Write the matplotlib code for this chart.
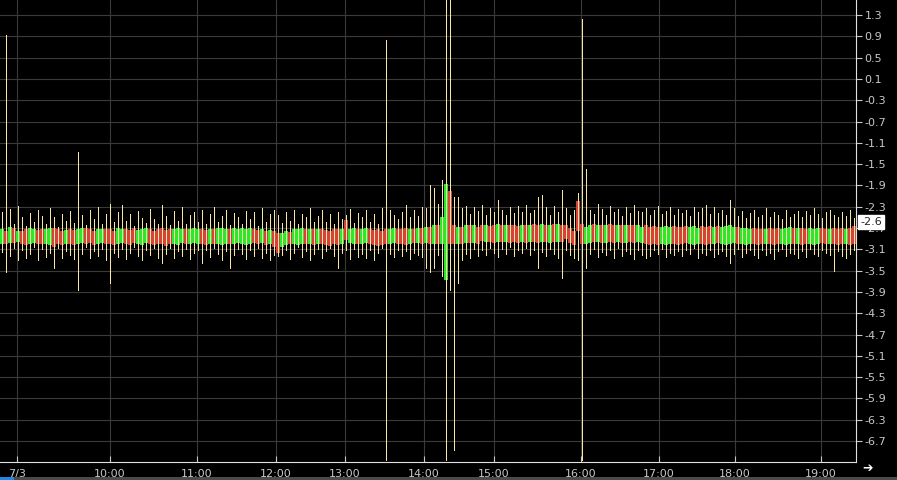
import matplotlib
matplotlib.use('Agg')
import matplotlib.pyplot as plt
import numpy as np
from matplotlib.patches import Rectangle

# tick-chart bars, prices in hundredths (open, close, high, low)
opens = [
    -300, -275, -298, -270, -296, -276, -272, -300, -298, -274,
    -272, -300, -302, -270, -272, -275, -300, -272, -274, -300,
    -298, -270, -272, -275, -300, -298, -272, -272, -275, -300,
    -298, -272, -274, -270, -300, -302, -298, -272, -275, -272,
    -270, -274, -272, -300, -302, -298, -272, -300, -298, -300,
    -272, -274, -300, -272, -300, -302, -300, -272, -300, -298,
    -300, -302, -300, -272, -274, -298, -275, -300, -276, -280,
    -305, -302, -278, -300, -302, -300, -272, -300, -272, -300,
    -272, -274, -275, -272, -272, -300, -255, -298, -300, -272,
    -300, -298, -272, -274, -272, -275, -272, -300, -298, -272,
    -272, -270, -300, -272, -298, -270, -298, -268, -300, -265,
    -300, -368, -200, -265, -300, -268, -298, -265, -298, -268,
    -265, -296, -266, -265, -296, -264, -296, -265, -264, -266,
    -296, -265, -296, -262, -265, -296, -264, -298, -262, -296,
    -264, -265, -270, -275, -220, -262, -300, -298, -262, -296,
    -265, -298, -262, -265, -296, -265, -298, -264, -265, -296,
    -298, -265, -268, -266, -268, -300, -302, -300, -266, -268,
    -268, -266, -300, -302, -300, -266, -268, -266, -300, -266,
    -300, -302, -300, -298, -268, -300, -302, -300, -270, -272,
    -272, -300, -270, -272, -270, -300, -302, -300, -270, -300,
    -270, -272, -300, -302, -300, -270, -272, -300, -270, -272,
    -270, -300, -270, -266,
]
closes = [
    -272, -300, -268, -298, -275, -300, -302, -270, -272, -300,
    -300, -272, -270, -305, -300, -302, -274, -300, -302, -272,
    -270, -300, -298, -302, -272, -272, -300, -300, -302, -270,
    -272, -300, -302, -298, -274, -272, -270, -300, -302, -300,
    -300, -303, -300, -272, -270, -272, -300, -272, -270, -272,
    -300, -302, -272, -300, -270, -270, -272, -300, -270, -272,
    -270, -272, -270, -298, -300, -272, -302, -274, -305, -317,
    -280, -275, -300, -272, -272, -270, -300, -272, -302, -272,
    -300, -302, -304, -300, -302, -272, -292, -272, -270, -300,
    -272, -270, -300, -302, -304, -302, -300, -272, -270, -300,
    -300, -302, -272, -298, -270, -300, -268, -300, -265, -300,
    -250, -187, -300, -300, -268, -300, -265, -298, -265, -300,
    -295, -265, -296, -298, -262, -296, -265, -298, -296, -298,
    -264, -298, -265, -296, -298, -262, -296, -265, -296, -262,
    -296, -290, -298, -302, -275, -300, -268, -265, -296, -265,
    -298, -265, -296, -298, -264, -298, -265, -296, -298, -265,
    -268, -300, -302, -300, -302, -268, -266, -268, -300, -302,
    -300, -298, -268, -266, -270, -300, -302, -300, -268, -298,
    -268, -266, -265, -268, -300, -270, -270, -272, -300, -302,
    -300, -272, -300, -302, -300, -272, -270, -268, -300, -270,
    -302, -300, -270, -272, -270, -298, -300, -272, -300, -302,
    -300, -272, -302, -300,
]
highs = [
    -240, 92, -235, -262, -228, -250, -266, -242, -258, -236,
    -248, -262, -232, -250, -268, -244, -256, -238, -260, -127,
    -246, -264, -236, -254, -230, -262, -244, -225, -258, -240,
    -226, -256, -244, -266, -238, -252, -260, -234, -254, -262,
    -226, -248, -264, -238, -256, -230, -262, -246, -240, -258,
    -236, -262, -244, -230, -258, -248, -236, -264, -242, -250,
    -262, -238, -254, -240, -266, -232, -258, -244, -236, -246,
    -260, -240, -256, -236, -262, -244, -250, -232, -258, -248,
    -236, -258, -244, -262, -240, -254, -245, -234, -260, -242,
    -250, -236, -258, -244, -262, -232, 83, -236, -245, -254,
    -240, -226, -250, -236, -248, -230, -232, -190, -195, -225,
    -180, 200, 200, -212, -212, -232, -228, -244, -230, -238,
    -226, -246, -232, -240, -217, -236, -246, -230, -242, -228,
    -240, -226, -242, -236, -212, -208, -230, -246, -228, -240,
    -199, -232, -245, -236, -205, 122, -160, -236, -244, -225,
    -235, -246, -228, -240, -234, -248, -230, -242, -226, -238,
    -240, -232, -246, -236, -228, -244, -238, -230, -246, -234,
    -242, -236, -248, -230, -240, -232, -227, -244, -230, -242,
    -236, -246, -217, -232, -248, -238, -252, -242, -236, -250,
    -245, -232, -250, -240, -246, -254, -236, -250, -244, -238,
    -250, -238, -246, -232, -244, -252, -240, -236, -245, -250,
    -240, -248, -236, -252,
]
lows = [
    -315, -353, -322, -308, -330, -312, -326, -318, -306, -330,
    -310, -324, -316, -346, -308, -326, -314, -320, -328, -386,
    -318, -306, -326, -314, -322, -310, -330, -373, -316, -324,
    -310, -328, -316, -306, -322, -330, -312, -320, -308, -326,
    -336, -318, -308, -326, -314, -322, -310, -328, -316, -312,
    -336, -312, -324, -308, -318, -330, -314, -345, -320, -310,
    -318, -328, -312, -322, -308, -326, -316, -330, -320, -322,
    -320, -312, -328, -316, -306, -324, -314, -330, -318, -310,
    -326, -314, -308, -322, -345, -316, -312, -328, -310, -324,
    -318, -326, -312, -330, -316, -308, -706, -318, -324, -312,
    -322, -314, -328, -316, -320, -325, -345, -352, -345, -320,
    -360, -706, -386, -687, -373, -330, -318, -326, -310, -322,
    -312, -320, -308, -316, -324, -310, -318, -306, -322, -312,
    -316, -308, -320, -312, -345, -315, -322, -310, -318, -326,
    -364, -312, -320, -326, -330, -706, -345, -318, -310, -324,
    -315, -320, -312, -326, -308, -322, -314, -318, -328, -312,
    -320, -326, -322, -312, -318, -310, -324, -316, -320, -314,
    -322, -312, -318, -308, -326, -316, -320, -312, -324, -318,
    -314, -322, -336, -318, -310, -324, -316, -312, -320, -326,
    -312, -320, -316, -328, -314, -310, -322, -316, -318, -326,
    -314, -324, -310, -318, -322, -312, -316, -320, -350, -314,
    -322, -326, -318, -312,
]

# time labels sit at bar positions of the tick chart
time_labels = ['7/3', '10:00', '11:00', '12:00', '13:00', '14:00',
               '15:00', '16:00', '17:00', '18:00', '19:00']
time_pos = [3.75, 27, 48.75, 68.5, 85.75, 105.5, 123, 144.75, 164.25, 183.25, 204.75]
price_ticks = [1.3, 0.9, 0.5, 0.1, -0.3, -0.7, -1.1, -1.5, -1.9, -2.3, -2.7,
               -3.1, -3.5, -3.9, -4.3, -4.7, -5.1, -5.5, -5.9, -6.3, -6.7]
last_price = -2.59

o = np.array(opens) / 100
c = np.array(closes) / 100
h = np.array(highs) / 100
l = np.array(lows) / 100
x = np.arange(len(o))

up_col = '#2ee62e'
down_col = '#d2433a'
wick_col = '#f7e9a4'
txt_col = '#c8c8c8'

fig = plt.figure(figsize=(8.97, 4.8), dpi=100, facecolor='black')
# 4 px per bar so bodies and wicks land on whole pixels
ax = fig.add_axes([0, 18 / 480, 856 / 897, 462 / 480])
ax.set_facecolor('black')

colors = [up_col if cc > oo else down_col for oo, cc in zip(o, c)]
bottoms = np.minimum(o, c)
heights = np.abs(c - o)
ax.bar(x, heights, bottom=bottoms, width=1.0, color=colors,
       edgecolor='none', linewidth=0, antialiased=False, zorder=2)
ax.vlines(x, l, h, color=wick_col, linewidth=0.72, antialiased=False, zorder=3)

ax.set_xlim(-0.5, len(o) - 0.5)
ax.set_ylim(-7.094, 1.582)

ax.yaxis.tick_right()
ax.set_yticks(price_ticks)
ax.set_yticklabels(['%.1f' % v for v in price_ticks])
ax.set_xticks(time_pos)
ax.set_xticklabels(time_labels)
ax.tick_params(axis='y', colors=txt_col, labelsize=8, length=4, direction='out', pad=2)
ax.tick_params(axis='x', colors=txt_col, labelsize=8, length=4, direction='in', pad=5)
ax.grid(True, color='#3a3a3a', linewidth=0.8, zorder=0)
ax.set_axisbelow(True)

for side in ['top', 'left']:
    ax.spines[side].set_visible(False)
ax.spines['right'].set_color('#e0e0e0')
ax.spines['bottom'].set_color('#e0e0e0')

# last price marker
ax.text(1.005, last_price, '-2.6', transform=ax.get_yaxis_transform(),
        va='center', ha='left', fontsize=8, color='#222222',
        bbox=dict(boxstyle='square,pad=0.2', facecolor='white', edgecolor='white'),
        zorder=5, clip_on=False)

fig.text(862 / 897, 1 - 469 / 480, '➔', color='white', fontsize=9,
         ha='left', va='center')

# scrollbar strip at the very bottom
fig.patches.append(Rectangle((0, 0), 1, 3 / 480, transform=fig.transFigure,
                             facecolor='#4a4a4a', edgecolor='none'))
fig.patches.append(Rectangle((0, 0), 14 / 897, 3 / 480, transform=fig.transFigure,
                             facecolor='#1e88e5', edgecolor='none'))

fig.savefig('out.png', dpi=100, facecolor='black')
